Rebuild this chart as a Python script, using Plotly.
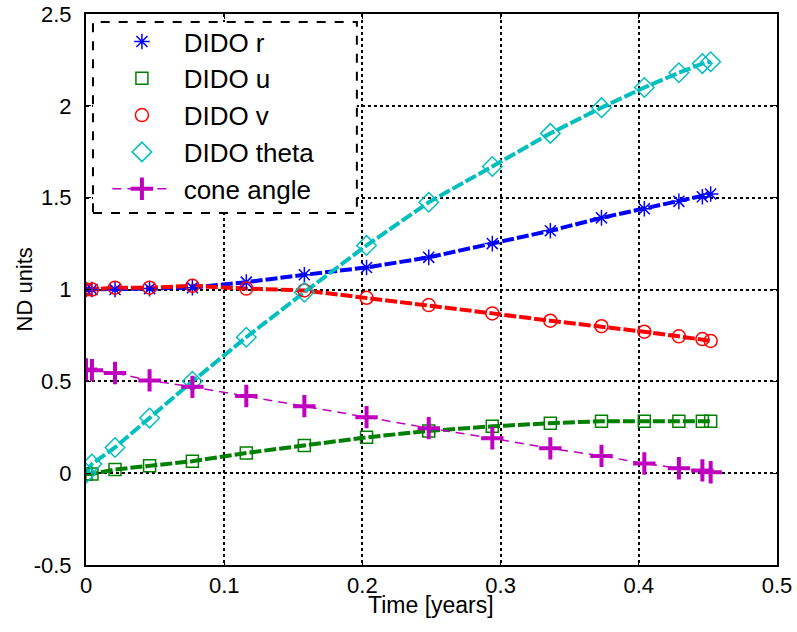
import plotly.graph_objects as go

# Time nodes (years)
time_nodes = [0.0, 0.0043, 0.021, 0.046, 0.077, 0.116, 0.158, 0.203,
              0.248, 0.294, 0.336, 0.373, 0.404, 0.429, 0.446, 0.452]

dido_r = [1.00, 1.00, 1.00, 1.005, 1.01, 1.04, 1.08, 1.12,
          1.175, 1.25, 1.32, 1.39, 1.44, 1.48, 1.505, 1.52]
dido_u = [-0.005, -0.005, 0.02, 0.04, 0.065, 0.11, 0.15, 0.195,
          0.23, 0.255, 0.272, 0.283, 0.283, 0.283, 0.283, 0.283]
dido_v = [1.00, 1.00, 1.01, 1.01, 1.02, 1.005, 0.995, 0.955,
          0.915, 0.87, 0.83, 0.80, 0.77, 0.745, 0.73, 0.72]
dido_theta = [0.0, 0.05, 0.14, 0.30, 0.50, 0.74, 0.985, 1.24,
              1.475, 1.67, 1.85, 1.99, 2.10, 2.18, 2.23, 2.24]
cone_angle = [0.565, 0.56, 0.545, 0.505, 0.47, 0.42, 0.365, 0.305,
              0.245, 0.19, 0.135, 0.094, 0.053, 0.027, 0.015, 0.005]

x_ticks = [0, 0.1, 0.2, 0.3, 0.4, 0.5]
x_ticktext = ["0", "0.1", "0.2", "0.3", "0.4", "0.5"]
y_ticks = [-0.5, 0, 0.5, 1, 1.5, 2, 2.5]
y_ticktext = ["-0.5", "0", "0.5", "1", "1.5", "2", "2.5"]

c_r = "rgb(0,0,255)"
c_u = "rgb(0,128,0)"
c_v = "rgb(255,0,0)"
c_t = "rgb(0,191,191)"
c_c = "rgb(191,0,191)"

fig = go.Figure()

# propagated thick dashed lines (no legend)
for ys, c in [(dido_r, c_r), (dido_u, c_u), (dido_v, c_v), (dido_theta, c_t)]:
    fig.add_trace(go.Scatter(x=time_nodes, y=ys, mode="lines",
                             line=dict(color=c, width=4, dash="12px,3px"),
                             showlegend=False, hoverinfo="skip"))

sp = "\u00a0"
fig.add_trace(go.Scatter(x=time_nodes, y=dido_r, mode="markers", name=sp + "DIDO r",
                         legendgroup="a",
                         marker=dict(symbol="asterisk-open", size=13, color=c_r,
                                     line=dict(color=c_r, width=1.5))))
fig.add_trace(go.Scatter(x=time_nodes, y=dido_u, mode="markers", name=sp + "DIDO u",
                         legendgroup="b",
                         marker=dict(symbol="square-open", size=12, color=c_u,
                                     line=dict(color=c_u, width=1.5))))
fig.add_trace(go.Scatter(x=time_nodes, y=dido_v, mode="markers", name=sp + "DIDO v",
                         legendgroup="c",
                         marker=dict(symbol="circle-open", size=13, color=c_v,
                                     line=dict(color=c_v, width=1.5))))
fig.add_trace(go.Scatter(x=time_nodes, y=dido_theta, mode="markers", name=sp + "DIDO theta",
                         legendgroup="d",
                         marker=dict(symbol="diamond-open", size=15, color=c_t,
                                     line=dict(color=c_t, width=1.5))))
fig.add_trace(go.Scatter(x=time_nodes, y=cone_angle, mode="lines+markers", name=sp + "cone angle",
                         legendgroup="e",
                         line=dict(color=c_c, width=1.5, dash="9px,6px"),
                         marker=dict(symbol="cross-thin-open", size=16, color=c_c,
                                     line=dict(color=c_c, width=4))))

font = "Liberation Sans, Arial, sans-serif"

fig.update_layout(
    width=797, height=632,
    margin=dict(l=86, r=20, t=14, b=67),
    paper_bgcolor="white", plot_bgcolor="white",
    font=dict(family=font, size=22, color="black"),
    showlegend=True,
    legend=dict(x=0.031, y=0.9926, xanchor="left", yanchor="top",
                bgcolor="rgba(0,0,0,0)", borderwidth=0,
                font=dict(family=font, size=26, color="black"),
                tracegroupgap=0, itemwidth=59),
    shapes=[dict(type="rect", xref="paper", yref="paper",
                 x0=0.0101, x1=0.392, y0=0.639, y1=0.9855,
                 fillcolor="white", layer="above",
                 line=dict(color="black", width=2, dash="dash"))],
    annotations=[
        dict(text="Time [years]", xref="paper", yref="paper", x=0.499, y=-0.0726,
             xanchor="center", yanchor="middle", showarrow=False,
             font=dict(family=font, size=23, color="black")),
        dict(text="ND units", xref="paper", yref="paper", x=-0.0883, y=0.5,
             xanchor="center", yanchor="middle", showarrow=False, textangle=-90,
             font=dict(family=font, size=22, color="black")),
    ],
)

fig.update_xaxes(range=[0, 0.5], tickvals=x_ticks, ticktext=x_ticktext,
                 showline=True, linecolor="black", linewidth=2, mirror="allticks",
                 ticks="inside", ticklen=5, tickcolor="black", tickwidth=1,
                 showgrid=True, gridcolor="black", griddash="dot", gridwidth=1.5,
                 zeroline=False, ticklabelstandoff=0, automargin=False,
                 ticklabeloverflow="allow",
                 tickfont=dict(family=font, size=22))
fig.update_yaxes(range=[-0.5, 2.5], tickvals=y_ticks, ticktext=y_ticktext,
                 showline=True, linecolor="black", linewidth=2, mirror="allticks",
                 ticks="inside", ticklen=5, tickcolor="black", tickwidth=1,
                 showgrid=True, gridcolor="black", griddash="dot", gridwidth=1.5,
                 zeroline=False, ticklabelstandoff=8, automargin=False,
                 ticklabeloverflow="allow",
                 tickfont=dict(family=font, size=22))

# remove the default 8px page margin so the figure fills the window exactly
fig.write_html("out.html",
               config={"displayModeBar": False},
               post_script="document.body.style.margin='0';document.body.style.overflow='hidden';")
